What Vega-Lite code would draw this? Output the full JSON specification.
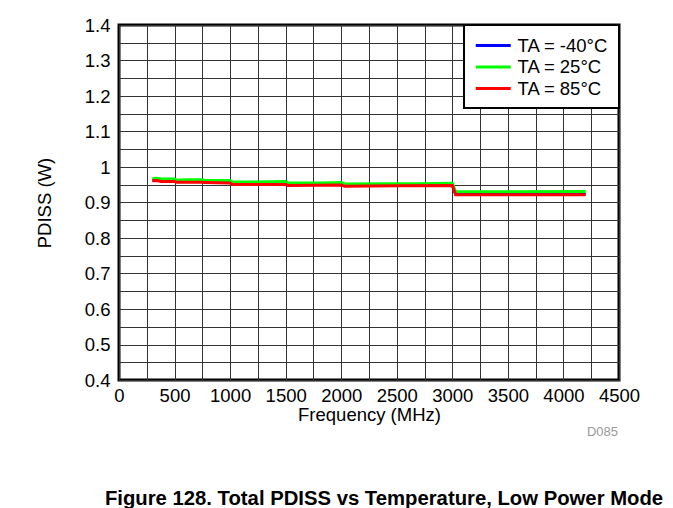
{
  "$schema": "https://vega.github.io/schema/vega-lite/v6.json",
  "autosize": "none",
  "padding": {"left": 119, "top": 25, "right": 54, "bottom": 128},
  "width": 500,
  "height": 355,
  "background": "white",
  "title": {
    "text": "Figure 128. Total PDISS vs Temperature, Low Power Mode",
    "orient": "bottom",
    "anchor": "middle",
    "fontSize": 20.3,
    "fontWeight": "bold",
    "color": "black",
    "offset": 50,
    "dx": 15
  },
  "datasets": {
    "curves": [
      {"f": 300, "p": 0.963, "s": "TA = -40°C"},
      {"f": 340, "p": 0.964, "s": "TA = -40°C"},
      {"f": 380, "p": 0.961, "s": "TA = -40°C"},
      {"f": 500, "p": 0.961, "s": "TA = -40°C"},
      {"f": 520, "p": 0.959, "s": "TA = -40°C"},
      {"f": 750, "p": 0.959, "s": "TA = -40°C"},
      {"f": 770, "p": 0.958, "s": "TA = -40°C"},
      {"f": 1000, "p": 0.957, "s": "TA = -40°C"},
      {"f": 1020, "p": 0.953, "s": "TA = -40°C"},
      {"f": 1500, "p": 0.953, "s": "TA = -40°C"},
      {"f": 1520, "p": 0.950, "s": "TA = -40°C"},
      {"f": 2000, "p": 0.951, "s": "TA = -40°C"},
      {"f": 2030, "p": 0.948, "s": "TA = -40°C"},
      {"f": 2500, "p": 0.949, "s": "TA = -40°C"},
      {"f": 3000, "p": 0.950, "s": "TA = -40°C"},
      {"f": 3030, "p": 0.924, "s": "TA = -40°C"},
      {"f": 3500, "p": 0.924, "s": "TA = -40°C"},
      {"f": 4200, "p": 0.924, "s": "TA = -40°C"},
      {"f": 300, "p": 0.967, "s": "TA = 25°C"},
      {"f": 340, "p": 0.968, "s": "TA = 25°C"},
      {"f": 380, "p": 0.966, "s": "TA = 25°C"},
      {"f": 500, "p": 0.966, "s": "TA = 25°C"},
      {"f": 520, "p": 0.963, "s": "TA = 25°C"},
      {"f": 600, "p": 0.964, "s": "TA = 25°C"},
      {"f": 750, "p": 0.964, "s": "TA = 25°C"},
      {"f": 770, "p": 0.962, "s": "TA = 25°C"},
      {"f": 1000, "p": 0.962, "s": "TA = 25°C"},
      {"f": 1020, "p": 0.958, "s": "TA = 25°C"},
      {"f": 1200, "p": 0.958, "s": "TA = 25°C"},
      {"f": 1500, "p": 0.959, "s": "TA = 25°C"},
      {"f": 1520, "p": 0.955, "s": "TA = 25°C"},
      {"f": 1800, "p": 0.955, "s": "TA = 25°C"},
      {"f": 2000, "p": 0.956, "s": "TA = 25°C"},
      {"f": 2030, "p": 0.952, "s": "TA = 25°C"},
      {"f": 2400, "p": 0.953, "s": "TA = 25°C"},
      {"f": 2700, "p": 0.953, "s": "TA = 25°C"},
      {"f": 3000, "p": 0.954, "s": "TA = 25°C"},
      {"f": 3030, "p": 0.930, "s": "TA = 25°C"},
      {"f": 3500, "p": 0.930, "s": "TA = 25°C"},
      {"f": 4200, "p": 0.931, "s": "TA = 25°C"},
      {"f": 300, "p": 0.961, "s": "TA = 85°C"},
      {"f": 340, "p": 0.962, "s": "TA = 85°C"},
      {"f": 380, "p": 0.959, "s": "TA = 85°C"},
      {"f": 500, "p": 0.959, "s": "TA = 85°C"},
      {"f": 520, "p": 0.957, "s": "TA = 85°C"},
      {"f": 750, "p": 0.957, "s": "TA = 85°C"},
      {"f": 770, "p": 0.956, "s": "TA = 85°C"},
      {"f": 1000, "p": 0.955, "s": "TA = 85°C"},
      {"f": 1020, "p": 0.951, "s": "TA = 85°C"},
      {"f": 1500, "p": 0.951, "s": "TA = 85°C"},
      {"f": 1520, "p": 0.948, "s": "TA = 85°C"},
      {"f": 2000, "p": 0.949, "s": "TA = 85°C"},
      {"f": 2030, "p": 0.946, "s": "TA = 85°C"},
      {"f": 2500, "p": 0.947, "s": "TA = 85°C"},
      {"f": 3000, "p": 0.948, "s": "TA = 85°C"},
      {"f": 3030, "p": 0.922, "s": "TA = 85°C"},
      {"f": 3500, "p": 0.922, "s": "TA = 85°C"},
      {"f": 4200, "p": 0.922, "s": "TA = 85°C"}
    ],
    "notes": [
      {"f": 4500, "p": 0.2535, "t": "D085"}
    ]
  },
  "encoding": {
    "x": {
      "field": "f",
      "type": "quantitative",
      "scale": {"domain": [0, 4500], "nice": false, "zero": false},
      "axis": {
        "title": "Frequency (MHz)",
        "values": [0, 250, 500, 750, 1000, 1250, 1500, 1750, 2000, 2250, 2500, 2750, 3000, 3250, 3500, 3750, 4000, 4250, 4500],
        "labelExpr": "datum.value % 500 === 0 ? format(datum.value, 'd') : ''",
        "labelFlush": false,
        "labelOverlap": false,
        "labelPadding": 6,
        "titlePadding": 1
      }
    },
    "y": {
      "field": "p",
      "type": "quantitative",
      "scale": {"domain": [0.4, 1.4], "nice": false, "zero": false},
      "axis": {
        "title": "PDISS (W)",
        "values": [0.4, 0.45, 0.5, 0.55, 0.6, 0.65, 0.7, 0.75, 0.8, 0.85, 0.9, 0.95, 1.0, 1.05, 1.1, 1.15, 1.2, 1.25, 1.3, 1.35, 1.4],
        "labelExpr": "round(datum.value * 100) % 10 === 0 ? format(datum.value, '~g') : ''",
        "labelFlush": false,
        "labelOverlap": false,
        "labelPadding": 9,
        "titlePadding": 30
      }
    }
  },
  "layer": [
    {
      "data": {"name": "curves"},
      "mark": {"type": "line", "strokeWidth": 3, "strokeCap": "butt", "strokeJoin": "miter"},
      "encoding": {
        "color": {
          "field": "s",
          "type": "nominal",
          "scale": {
            "domain": ["TA = -40°C", "TA = 25°C", "TA = 85°C"],
            "range": ["#0000ff", "#00ff00", "#ff0000"]
          },
          "legend": {
            "title": null,
            "orient": "top-right",
            "offset": 0,
            "strokeColor": "black",
            "fillColor": "white",
            "padding": 10,
            "labelFontSize": 18.5,
            "labelColor": "black",
            "labelOffset": 13.75,
            "rowPadding": 1.5,
            "symbolOffset": 8.75,
            "symbolType": "M-2,0H2",
            "symbolSize": 306,
            "symbolStrokeWidth": 3,
            "encode": {"legend": {"update": {"strokeWidth": {"value": 2}}}}
          }
        }
      }
    },
    {
      "data": {"name": "notes"},
      "mark": {"type": "text", "align": "right", "baseline": "middle", "fontSize": 13, "color": "#999999", "dx": -1},
      "encoding": {
        "text": {"field": "t"}
      }
    }
  ],
  "config": {
    "font": "Liberation Sans",
    "view": {"stroke": "black", "strokeWidth": 3},
    "axis": {
      "grid": true,
      "gridColor": "#333333",
      "gridWidth": 1,
      "gridOpacity": 1,
      "domain": false,
      "ticks": false,
      "labelFontSize": 18.5,
      "labelColor": "black",
      "titleFontSize": 18.5,
      "titleFontWeight": "normal",
      "titleColor": "black"
    }
  }
}
